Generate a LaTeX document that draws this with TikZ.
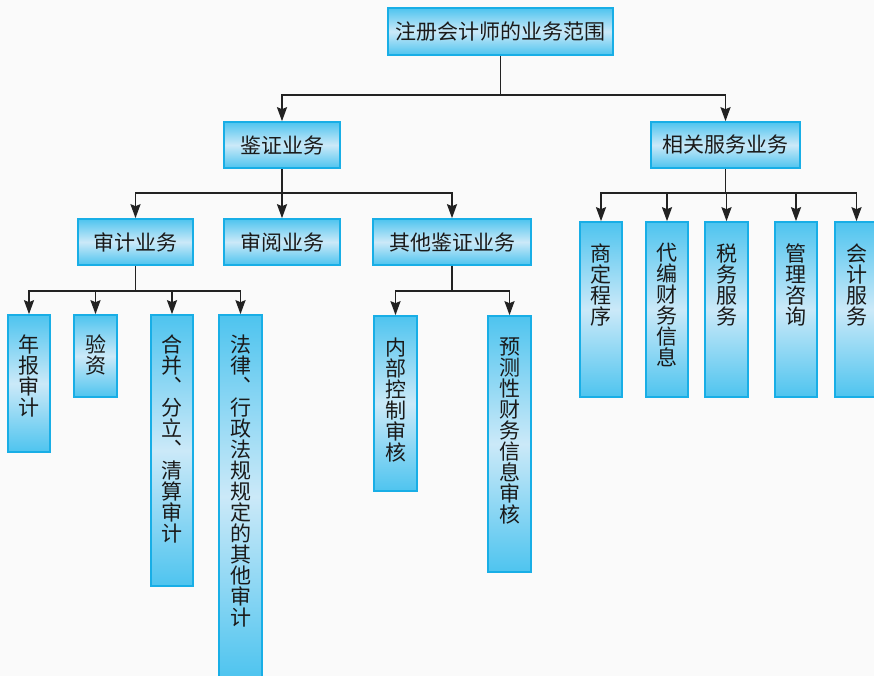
\documentclass[tikz,border=0pt]{standalone}
\usepackage{fontspec}
\setmainfont{Noto Sans CJK SC}
\usetikzlibrary{arrows.meta}
\definecolor{bgc}{HTML}{FAFAFA}
\definecolor{boxedge}{HTML}{18AEE6}
\definecolor{boxdark}{HTML}{4EC4EF}
\definecolor{boxlight}{HTML}{CBE9F8}
\definecolor{linec}{HTML}{222222}
\definecolor{txt}{HTML}{1A1A1A}
\begin{document}
\begin{tikzpicture}[x=1pt,y=-1pt,
  box/.style={draw=boxedge, line width=1.6pt, top color=boxdark, bottom color=boxdark, middle color=boxlight, inner sep=0pt},
  lbl/.style={font=\fontsize{21}{21}\selectfont, text=txt, inner sep=0pt, align=center},
  conn/.style={line width=1.9pt, draw=linec},
  arr/.style={conn, -{Stealth[length=14pt,width=10pt,inset=2pt]}}]
\fill[bgc] (0,0) rectangle (874,676);
\useasboundingbox (0,0) rectangle (874,676);
% horizontal boxes
\node[box, minimum width=225pt, minimum height=47pt] (top) at (500.5,31.5) {};
\node[lbl] (ttop) at (top.center) {注册会计师的业务范围};
\node[box, minimum width=116pt, minimum height=46pt] (jz) at (282,145) {};
\node[lbl] (tjz) at (jz.center) {鉴证业务};
\node[box, minimum width=149pt, minimum height=46pt] (xg) at (725.5,145) {};
\node[lbl] (txg) at (xg.center) {相关服务业务};
\node[box, minimum width=115pt, minimum height=46pt] (sj) at (135.5,242) {};
\node[lbl] (tsj) at (sj.center) {审计业务};
\node[box, minimum width=116pt, minimum height=46pt] (sy) at (282,242) {};
\node[lbl] (tsy) at (sy.center) {审阅业务};
\node[box, minimum width=158pt, minimum height=46pt] (qt) at (452,242) {};
\node[lbl] (tqt) at (qt.center) {其他鉴证业务};
% vertical boxes
\node[box, minimum width=42pt, minimum height=137pt] (nb) at (29,383.5) {};
\node[lbl, anchor=north] (tnb) at ([yshift=-20pt]nb.north) {年\\报\\审\\计};
\node[box, minimum width=43pt, minimum height=82pt] (yz) at (95.5,356) {};
\node[lbl, anchor=north] (tyz) at ([yshift=-20pt]yz.north) {验\\资};
\node[box, minimum width=42pt, minimum height=271pt] (hb) at (172,450.5) {};
\node[lbl, anchor=north] (thb) at ([yshift=-20pt]hb.north) {合\\并\\︑\\分\\立\\︑\\清\\算\\审\\计};
\node[box, minimum width=43pt, minimum height=363pt] (fl) at (240.5,496.5) {};
\node[lbl, anchor=north] (tfl) at ([yshift=-20pt]fl.north) {法\\律\\︑\\行\\政\\法\\规\\规\\定\\的\\其\\他\\审\\计};
\node[box, minimum width=43pt, minimum height=175pt] (nk) at (395.5,403.5) {};
\node[lbl, anchor=north] (tnk) at ([yshift=-22pt]nk.north) {内\\部\\控\\制\\审\\核};
\node[box, minimum width=43pt, minimum height=256pt] (yc) at (509.5,444) {};
\node[lbl, anchor=north] (tyc) at ([yshift=-22pt]yc.north) {预\\测\\性\\财\\务\\信\\息\\审\\核};
\node[box, minimum width=42pt, minimum height=175pt] (sd) at (601,309.5) {};
\node[lbl, anchor=north] (tsd) at ([yshift=-22pt]sd.north) {商\\定\\程\\序};
\node[box, minimum width=42pt, minimum height=175pt] (db) at (667,309.5) {};
\node[lbl, anchor=north] (tdb) at ([yshift=-22pt]db.north) {代\\编\\财\\务\\信\\息};
\node[box, minimum width=43pt, minimum height=175pt] (sw) at (726.5,309.5) {};
\node[lbl, anchor=north] (tsw) at ([yshift=-22pt]sw.north) {税\\务\\服\\务};
\node[box, minimum width=42pt, minimum height=175pt] (gl) at (796,309.5) {};
\node[lbl, anchor=north] (tgl) at ([yshift=-22pt]gl.north) {管\\理\\咨\\询};
\node[box, minimum width=43pt, minimum height=175pt] (kj) at (856.5,309.5) {};
\node[lbl, anchor=north] (tkj) at ([yshift=-22pt]kj.north) {会\\计\\服\\务};
% connectors
\coordinate (h1) at (500.5,95);
\draw[conn] (top.south) -- (h1);
\draw[arr] (h1) -| (jz.north);
\draw[arr] (h1) -| (xg.north);
\coordinate (h2) at (282,193);
\draw[conn] (jz.south) -- (h2);
\draw[arr] (h2) -| (sj.north);
\draw[arr] (h2) -- (sy.north);
\draw[arr] (h2) -| (qt.north);
\coordinate (h3) at (725.5,193);
\draw[conn] (xg.south) -- (h3);
\draw[arr] (h3) -| (sd.north);
\draw[arr] (h3) -| (db.north);
\draw[arr] (h3) -| (sw.north);
\draw[arr] (h3) -| (gl.north);
\draw[arr] (h3) -| (kj.north);
\coordinate (h4) at (135.5,291);
\draw[conn] (sj.south) -- (h4);
\draw[arr] (h4) -| (nb.north);
\draw[arr] (h4) -| (yz.north);
\draw[arr] (h4) -| (hb.north);
\draw[arr] (h4) -| (fl.north);
\coordinate (h5) at (452,291);
\draw[conn] (qt.south) -- (h5);
\draw[arr] (h5) -| (nk.north);
\draw[arr] (h5) -| (yc.north);
\end{tikzpicture}
\end{document}
